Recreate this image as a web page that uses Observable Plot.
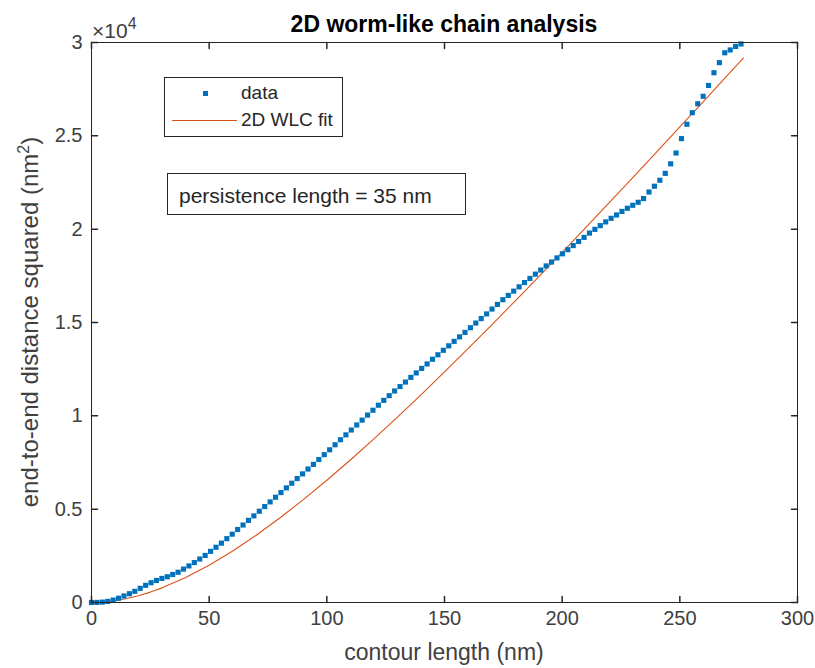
<!DOCTYPE html>
<html><head><meta charset="utf-8">
<script src="https://cdn.jsdelivr.net/npm/d3@7"></script>
<script src="https://cdn.jsdelivr.net/npm/@observablehq/plot@0.6"></script>
<style>
body{margin:0;background:#fff;font-family:"Liberation Sans",Arial,Helvetica,sans-serif;}
#wrap{position:relative;width:815px;height:668px;overflow:hidden;}
.abs{position:absolute;white-space:nowrap;color:#262626;}
</style></head><body><div id="wrap"></div>
<script>
const contourLength = [0,2.3,4.6,6.9,9.2,11.5,13.8,16.1,18.4,20.7,23,25.3,27.6,29.9,32.2,34.5,36.8,39.1,41.4,43.7,46,48.3,50.6,52.9,55.2,57.5,59.8,62.1,64.4,66.7,69,71.3,73.6,75.9,78.2,80.5,82.8,85.1,87.4,89.7,92,94.3,96.6,98.9,101.2,103.5,105.8,108.1,110.4,112.7,115,117.3,119.6,121.9,124.2,126.5,128.8,131.1,133.4,135.7,138,140.3,142.6,144.9,147.2,149.5,151.8,154.1,156.4,158.7,161,163.3,165.6,167.9,170.2,172.5,174.8,177.1,179.4,181.7,184,186.3,188.6,190.9,193.2,195.5,197.8,200.1,202.4,204.7,207,209.3,211.6,213.9,216.2,218.5,220.8,223.1,225.4,227.7,230,232.3,234.6,236.9,239.2,241.5,243.8,246.1,248.4,250.7,253,255.3,257.6,259.9,262.2,264.5,266.8,269.1,271.4,273.7,276];
const distanceSq = [0,5,20,60,130,230,350,470,600,760,920,1060,1180,1290,1380,1500,1620,1790,1960,2140,2330,2520,2740,2960,3180,3420,3660,3910,4150,4400,4640,4890,5140,5390,5640,5890,6140,6390,6640,6890,7150,7400,7660,7920,8180,8450,8720,8980,9240,9510,9770,10040,10300,10570,10830,11080,11330,11570,11810,12060,12300,12540,12780,13030,13270,13510,13750,13990,14230,14470,14720,14970,15210,15460,15720,15970,16220,16450,16680,16910,17140,17360,17590,17810,18030,18240,18460,18680,18900,19120,19340,19560,19790,19990,20190,20390,20580,20760,20950,21120,21280,21440,21640,21990,22300,22620,22990,23500,24080,24850,25620,26240,26720,27120,27700,28380,28920,29450,29600,29790,29920];
const fitLength = [0,5,10,15,20,25,30,40,50,60,70,80,90,100,110,120,130,140,150,160,170,180,190,200,210,220,230,240,250,260,270,277];
const fitValue = [0,25,95,210,365,557,784,1334,1997,2759,3605,4525,5509,6549,7636,8765,9930,11126,12350,13597,14864,16149,17449,18763,20088,21423,22767,24118,25476,26839,28207,29167];
const xTicks = [0,50,100,150,200,250,300];
const yTicks = [0,5000,10000,15000,20000,25000,30000];
const yTickLabels = ["0","0.5","1","1.5","2","2.5","3"];
const seriesNames = ["data","2D WLC fit"];
const annotationText = "persistence length = 35 nm";

const blue = "#0072BD", orange = "#D95319", axisColor = "#262626", textGray = "#404040";
const data = contourLength.map((x,i)=>({x, y: distanceSq[i]}));
const fit = fitLength.map((x,i)=>({x, y: fitValue[i]}));
const tickShape = {draw(ctx, l){ctx.moveTo(0,0); ctx.lineTo(0,-l);}};
const tk = 6;

const chart = Plot.plot({
  width: 815, height: 668,
  marginLeft: 91, marginRight: 18, marginTop: 42, marginBottom: 66,
  style: {fontFamily: '"Liberation Sans", Arial, sans-serif', fontSize: "20px", color: axisColor, background: "white"},
  x: {domain: [0, 300], label: null},
  y: {domain: [0, 30000], label: null},
  marks: [
    Plot.line(fit, {x: "x", y: "y", stroke: orange, strokeWidth: 1.1}),
    Plot.dot(data, {x: "x", y: "y", symbol: "square", r: 2.9, fill: blue, stroke: "none"}),
    Plot.frame({stroke: axisColor, strokeWidth: 1}),
    Plot.vector(xTicks, {x: d => d, frameAnchor: "bottom", length: tk, rotate: 0, anchor: "start", shape: tickShape, stroke: axisColor}),
    Plot.vector(xTicks, {x: d => d, frameAnchor: "top", length: tk, rotate: 180, anchor: "start", shape: tickShape, stroke: axisColor}),
    Plot.vector(yTicks, {y: d => d, frameAnchor: "left", length: tk, rotate: 90, anchor: "start", shape: tickShape, stroke: axisColor}),
    Plot.vector(yTicks, {y: d => d, frameAnchor: "right", length: tk, rotate: -90, anchor: "start", shape: tickShape, stroke: axisColor}),
    Plot.axisX(xTicks, {anchor: "bottom", tickSize: 0, tickPadding: 8, label: null, fontSize: 20, fill: textGray}),
    Plot.axisY(yTicks, {anchor: "left", tickSize: 0, tickPadding: 9, label: null, fontSize: 20, fill: textGray,
      tickFormat: d => yTickLabels[yTicks.indexOf(d)]})
  ]
});
const wrap = document.getElementById("wrap");
wrap.appendChild(chart);

function add(html, css){ const d = document.createElement("div"); d.className = "abs"; d.innerHTML = html; Object.assign(d.style, css); wrap.appendChild(d); return d; }

add("2D worm-like chain analysis", {left:"91px", width:"706px", textAlign:"center", top:"12px", fontSize:"23px", fontWeight:"bold", color:"#000", lineHeight:"24px"});
add('×10<span style="font-size:16px;position:relative;top:-9px">4</span>', {left:"92px", top:"20px", fontSize:"21px", color:textGray, lineHeight:"22px"});
add("contour length (nm)", {left:"91px", width:"706px", textAlign:"center", top:"640px", fontSize:"23px", color:textGray, lineHeight:"24px"});
add('end-to-end distance squared (nm<span style="font-size:16px;position:relative;top:-9px">2</span>)', {left:"31px", top:"322px", fontSize:"24px", color:textGray, lineHeight:"24px", transform:"translate(-50%,-50%) rotate(-90deg)"});

// legend
add(`
<div style="position:absolute;left:38px;top:13px;width:5px;height:5px;background:${blue}"></div>
<div style="position:absolute;left:76px;top:5px;font-size:19px;line-height:20px">${seriesNames[0]}</div>
<div style="position:absolute;left:7px;top:42px;width:65px;height:1.2px;background:${orange}"></div>
<div style="position:absolute;left:76px;top:32px;font-size:19px;line-height:20px">${seriesNames[1]}</div>`,
 {left:"164px", top:"77px", width:"179px", height:"60px", border:"1px solid #262626", background:"#fff", boxSizing:"border-box"});
add(`<div style="position:absolute;left:11px;top:11px;font-size:21px;line-height:22px">${annotationText}</div>`,
 {left:"167px", top:"173px", width:"299px", height:"42px", border:"1px solid #262626", background:"#fff", boxSizing:"border-box"});
</script>
</body></html>
